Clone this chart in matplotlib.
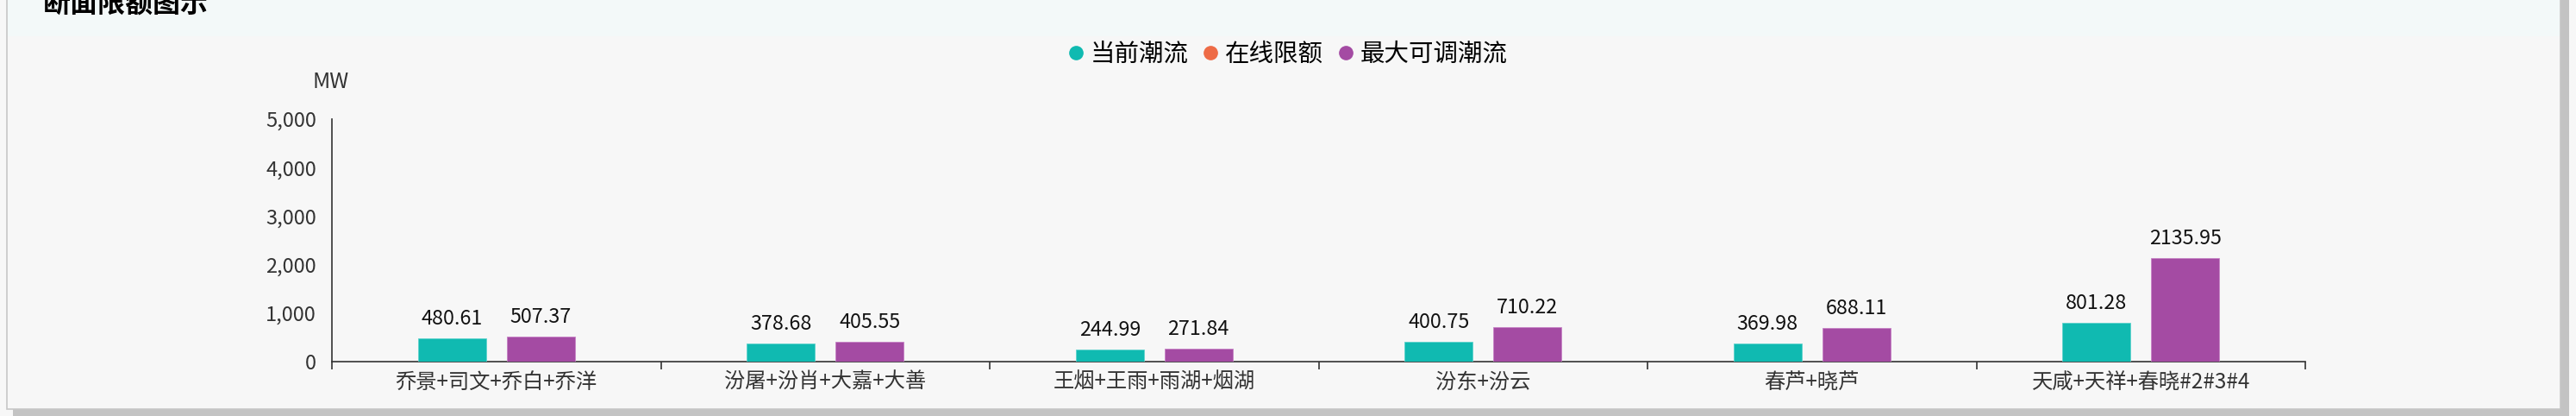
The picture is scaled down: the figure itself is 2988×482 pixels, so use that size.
import matplotlib
matplotlib.use("Agg")
import matplotlib.pyplot as plt
import numpy as np
from matplotlib.patches import Rectangle
from matplotlib.lines import Line2D
from matplotlib.ticker import FuncFormatter, FixedLocator

plt.rcParams['font.family'] = ['Noto Sans CJK SC', 'DejaVu Sans']

# ---------------------------------------------------------------------
# chart data
# ---------------------------------------------------------------------
sections = ["乔景+司文+乔白+乔洋", "汾屠+汾肖+大嘉+大善", "王烟+王雨+雨湖+烟湖",
            "汾东+汾云", "春芦+晓芦", "天咸+天祥+春晓#2#3#4"]
current_flow = [480.61, 378.68, 244.99, 400.75, 369.98, 801.28]
max_adjustable = [507.37, 405.55, 271.84, 710.22, 688.11, 2135.95]
series_names = ["当前潮流", "在线限额", "最大可调潮流"]
y_ticks = [0, 1000, 2000, 3000, 4000, 5000]

colors = ["#10bab1", "#ee6b46", "#a44ba3"]

W, H = 2988, 482
fig = plt.figure(figsize=(W / 100, H / 100), dpi=100, facecolor="#f7f7f7")


def px(x, y):
    # pixel coords from top-left -> figure fraction
    return x / W, 1 - y / H


# panel shadow, panel, header band (behind the axes)
sx, sy = px(15, 482)
fig.patches.append(Rectangle((sx, sy), (2980 - 15) / W, 482 / H,
                             transform=fig.transFigure, facecolor="#c3c3c3",
                             edgecolor="none", zorder=-3))
px0, py0 = px(8, 474)
fig.patches.append(Rectangle((px0, py0), (2970 - 8) / W, 490 / H,
                             transform=fig.transFigure, facecolor="#f7f7f7",
                             edgecolor="#c6c6c6", linewidth=1.2, zorder=-2))
hx, hy = px(9, 42)
fig.patches.append(Rectangle((hx, hy), (2969 - 9) / W, 50 / H,
                             transform=fig.transFigure, facecolor="#f3f9f9",
                             edgecolor="none", zorder=-1))

# title (clipped at the top as in the screenshot)
tx, ty = px(50, 14)
fig.text(tx, ty, "断面限额图示", fontsize=23, fontweight="bold",
         color="#000000", va="baseline", ha="left", zorder=5)

ax_l, ax_b = px(385, 419)
ax_r, ax_t = px(2674, 138)
ax = fig.add_axes([ax_l, ax_b, ax_r - ax_l, ax_t - ax_b])
ax.set_facecolor("none")

x = np.arange(len(sections))
bar_w = 0.207
off = 0.135

b1 = ax.bar(x - off, current_flow, bar_w, color=colors[0],
            edgecolor="#5fd3cc", linewidth=0.6, zorder=3)
b2 = ax.bar(x + off, max_adjustable, bar_w, color=colors[2],
            edgecolor="#c783c6", linewidth=0.6, zorder=3)

for bars, vals in ((b1, current_flow), (b2, max_adjustable)):
    for rect, v in zip(bars, vals):
        ax.annotate(f"{v:.2f}", (rect.get_x() + rect.get_width() / 2, v),
                    xytext=(0, 8), textcoords="offset points",
                    ha="center", va="bottom", fontsize=16.8, color="#111111")

ax.set_xlim(-0.5, len(sections) - 0.5)
ax.set_ylim(0, 5000)
ax.yaxis.set_major_locator(FixedLocator(y_ticks))
ax.yaxis.set_major_formatter(FuncFormatter(lambda v, p: f"{int(v):,}"))
ax.tick_params(axis="y", length=0, pad=13, labelsize=17, labelcolor="#333333")

# category boundary ticks + centred labels
ax.xaxis.set_major_locator(FixedLocator(np.arange(-0.5, len(sections), 1.0)))
ax.xaxis.set_major_formatter(FuncFormatter(lambda v, p: ""))
ax.xaxis.set_minor_locator(FixedLocator(x))
ax.set_xticklabels(sections, minor=True)
ax.tick_params(axis="x", which="major", length=6.5, width=1.2, color="#333333")
ax.tick_params(axis="x", which="minor", length=0, pad=8, labelsize=17.5,
               labelcolor="#333333")

for s in ("top", "right"):
    ax.spines[s].set_visible(False)
for s in ("left", "bottom"):
    ax.spines[s].set_color("#333333")
    ax.spines[s].set_linewidth(1.2)

mx, my = px(384, 95)
fig.text(mx, my, "MW", fontsize=18, color="#333333", ha="center", va="center")

handles = [Line2D([], [], linestyle="none", marker="o", markersize=11,
                  markerfacecolor=c, markeredgecolor=c) for c in colors]
lx, ly = px(1494, 63)
fig.legend(handles, series_names, loc="center", bbox_to_anchor=(lx, ly),
           ncol=3, frameon=False, fontsize=20.5, handlelength=0.6,
           handletextpad=0.3, columnspacing=0.6, borderpad=0)

fig.savefig("out.png", dpi=100, facecolor=fig.get_facecolor())
